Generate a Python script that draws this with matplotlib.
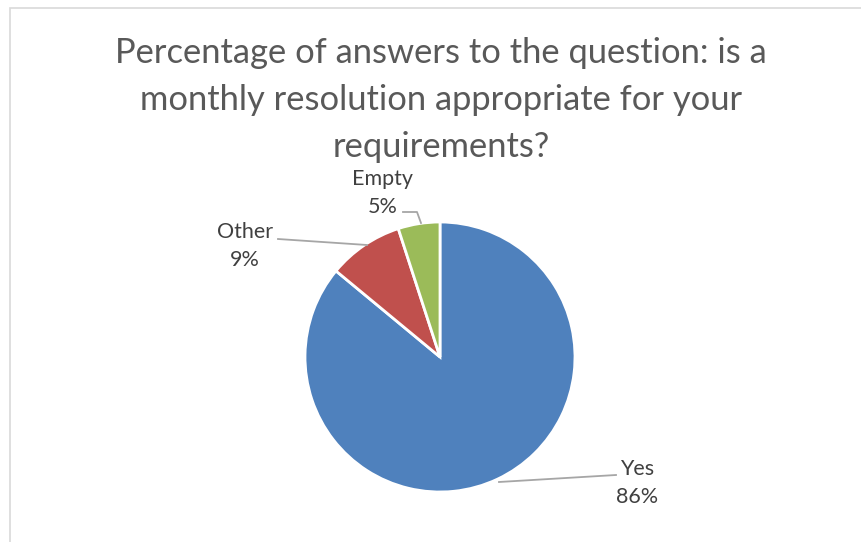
import matplotlib
matplotlib.use("Agg")
import matplotlib.pyplot as plt

# Survey answers
LABELS = ["Yes", "Other", "Empty"]
SHARES = [86, 9, 5]
COLORS = ["#4F81BD", "#C0504D", "#9BBB59"]

TITLE = ("Percentage of answers to the question: is a\n"
         "monthly resolution appropriate for your\n"
         "requirements?")

plt.rcParams["font.family"] = ["Lato", "DejaVu Sans"]

W, H = 861, 542
fig = plt.figure(figsize=(W / 100, H / 100), dpi=100)
ax = fig.add_axes([0, 0, 1, 1])

# chart frame (runs off the right and bottom edges)
ax.plot([9.5, 9.5, W + 5], [-5, H - 7.5, H - 7.5], color="#D9D9D9", lw=1.2,
        solid_joinstyle="miter")

cx, cy, r = 440, H - 357, 135
wedges, _ = ax.pie(SHARES, colors=COLORS, startangle=90, counterclock=False,
                   center=(cx, cy), radius=r, frame=True,
                   wedgeprops=dict(edgecolor="white", linewidth=2))
ax.set_xlim(0, W)
ax.set_ylim(0, H)
ax.set_aspect("equal")
ax.axis("off")

ax.text(441, H - 100, TITLE, ha="center", va="center", fontsize=24.8,
        color="#595959", linespacing=1.58)

label_kw = dict(ha="center", va="center", fontsize=15.5, color="#404040",
                linespacing=1.55)
line_kw = dict(color="#A6A6A6", lw=1.3)

ax.text(637, H - 483, f"{LABELS[0]}\n{SHARES[0]}%", **label_kw)
ax.plot([499, 616], [H - 482, H - 475], **line_kw)

ax.text(245, H - 246, f"{LABELS[1]}\n{SHARES[1]}%", **label_kw)
ax.plot([278, 367], [H - 239, H - 245], **line_kw)

ax.text(383, H - 193, f"{LABELS[2]}\n{SHARES[2]}%", **label_kw)
ax.plot([403, 417, 421], [H - 212, H - 212, H - 223], **line_kw)

fig.savefig("out.png", dpi=100, facecolor="white")
